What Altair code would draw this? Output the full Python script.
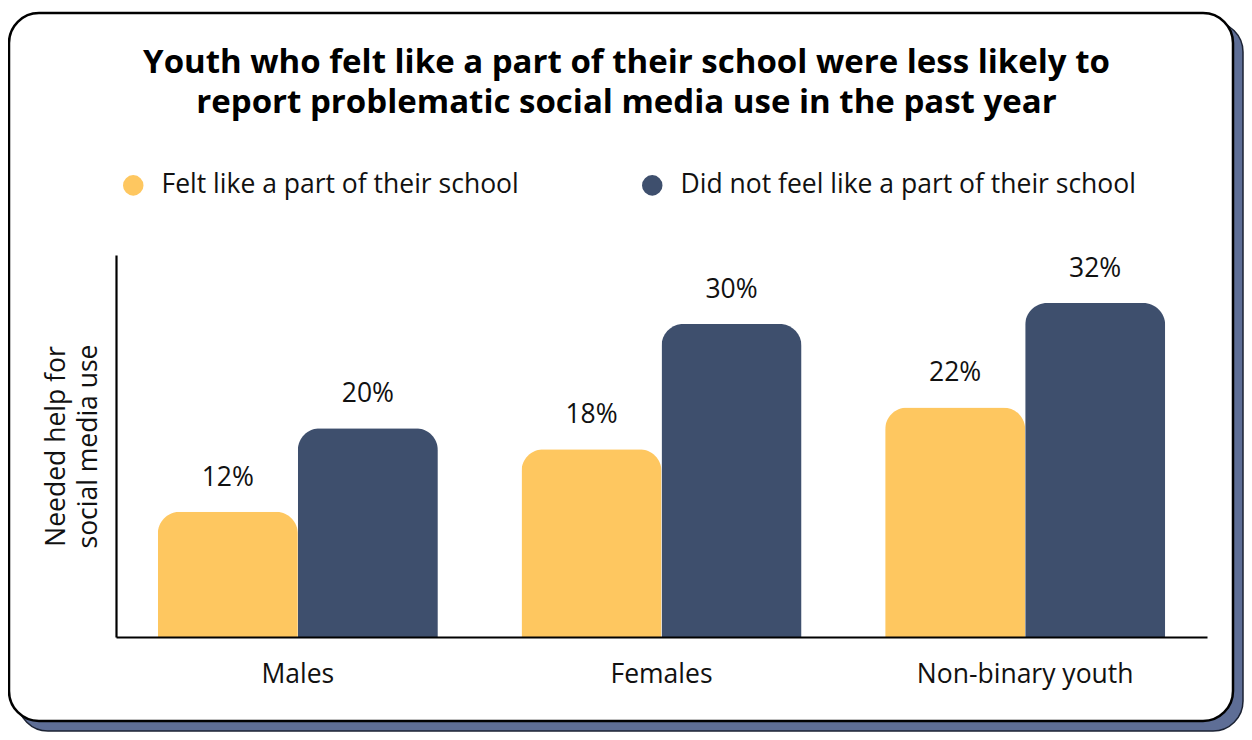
import altair as alt
import pandas as pd

groups = ["Males", "Females", "Non-binary youth"]
series = ["Felt like a part of their school", "Did not feel like a part of their school"]
felt = [12, 18, 22]
not_felt = [20, 30, 32]
colors = ["#FEC760", "#3E4F6D"]

rows = []
for g, a, b in zip(groups, felt, not_felt):
    rows.append({"group": g, "series": series[0], "value": a, "label": f"{a}%"})
    rows.append({"group": g, "series": series[1], "value": b, "label": f"{b}%"})
df = pd.DataFrame(rows)

FONT = "Open Sans"
FS = 26.5
W, H = 1091, 382

x_enc = alt.X("group:N", sort=groups, title=None,
              scale=alt.Scale(paddingInner=0.23, paddingOuter=0.115),
              axis=alt.Axis(domainColor="black", domainWidth=2.2, ticks=False,
                            labelFontSize=FS, labelFont=FONT, labelColor="#111111",
                            labelPadding=24, labelAngle=0, labelLimit=400, zindex=1))
y_enc = alt.Y("value:Q", scale=alt.Scale(domain=[0, 36.6], nice=False),
              title=["Needed help for", "social media use"],
              axis=alt.Axis(domainColor="black", domainWidth=2.2, ticks=False,
                            labels=False, grid=False, titleFontSize=FS,
                            titleFont=FONT, titleFontWeight="normal",
                            titleColor="#111111", titlePadding=14,
                            titleLineHeight=32, zindex=1))

one = alt.Data(values=[{"k": 1}])

shadow = alt.Chart(one).mark_rect(cornerRadius=30, fill="#5E6E96",
                                  stroke="#1b2233", strokeWidth=1.5).encode(
    x=alt.value(-98), x2=alt.value(1127),
    y=alt.value(-233), y2=alt.value(476))
card = alt.Chart(one).mark_rect(cornerRadius=30, fill="white",
                                stroke="black", strokeWidth=2.5).encode(
    x=alt.value(-107), x2=alt.value(1117),
    y=alt.value(-242), y2=alt.value(466))

bars = alt.Chart(df).mark_bar(cornerRadiusTopLeft=22, cornerRadiusTopRight=22).encode(
    x=x_enc,
    xOffset=alt.XOffset("series:N", sort=series),
    y=y_enc,
    color=alt.Color("series:N", sort=series,
                    scale=alt.Scale(domain=series, range=colors),
                    legend=alt.Legend(title=None, orient="none", legendX=4, legendY=-83,
                                      direction="horizontal", columns=2,
                                      symbolType="circle", symbolSize=420,
                                      symbolStrokeWidth=0, labelFont=FONT,
                                      labelFontSize=FS, labelColor="#111111",
                                      labelOffset=15, columnPadding=120,
                                      labelLimit=600, zindex=1)),
)

text = alt.Chart(df).mark_text(font=FONT, fontSize=FS, color="#111111",
                               baseline="middle", dy=-34).encode(
    x=alt.X("group:N", sort=groups),
    xOffset=alt.XOffset("series:N", sort=series),
    y="value:Q",
    text="label:N",
)

chart = alt.layer(shadow, card, bars, text).properties(
    width=W, height=H,
    padding={"left": 108, "top": 247, "right": 37, "bottom": 95},
    autosize=alt.AutoSizeParams(type="none"),
    title=alt.TitleParams(
        ["Youth who felt like a part of their school were less likely to",
         "report problematic social media use in the past year"],
        font=FONT, fontSize=33, fontWeight="bold", color="black",
        anchor="middle", lineHeight=40, offset=0, dy=108, dx=-35, zindex=1),
).configure_view(stroke=None).configure(background="white")

chart.save("out.html", embed_options={"renderer": "svg", "actions": False})
